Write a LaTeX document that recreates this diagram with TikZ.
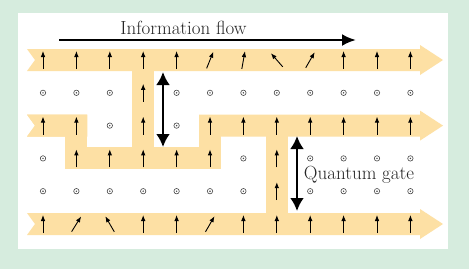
\documentclass[tikz,border=0pt]{standalone}
\usetikzlibrary{arrows.meta}
\definecolor{bggreen}{RGB}{214,236,222}
\definecolor{bandc}{RGB}{253,224,164}
\definecolor{dotgray}{RGB}{70,70,70}
\tikzset{
  bandfill/.style={fill=bandc},
  spinarrow/.style={line width=0.9pt,-{Latex[length=6pt,width=4.6pt]}},
  bigarrow/.style={line width=2.6pt,-{Latex[length=14pt,width=12pt]}},
  dblarrow/.style={line width=2.8pt,{Latex[length=13pt,width=14pt]}-{Latex[length=13pt,width=14pt]}},
  lbl/.style={font=\fontsize{19}{22}\selectfont,inner sep=0pt,text=black!85}
}
\newcommand\bandrow[1]{\fill[bandfill] (27,#1-11) -- (420,#1-11) -- (420,#1-15) -- (443,#1) -- (420,#1+15) -- (420,#1+11) -- (27,#1+11) -- (35,#1) -- cycle;}
\newcommand\spinat[3]{\draw[spinarrow,shift={({43+33.4*(#1-1)},#2)},rotate=#3] (0,9) -- (0,-9);}
\newcommand\dotat[2]{\draw[dotgray,line width=0.6pt] ({43+33.4*(#1-1)},#2) circle[radius=2.7]; \fill[dotgray] ({43+33.4*(#1-1)},#2) circle[radius=0.8];}
\begin{document}
\begin{tikzpicture}[x=1pt,y=-1pt]
\fill[bggreen] (0,0) rectangle (469,269);
\useasboundingbox (0,0) rectangle (469,269);
\fill[white] (18,13) rectangle (448,249);
% bands
\bandrow{60}
\bandrow{125.6}
\bandrow{224}
\fill[white] (87.4,114) rectangle (199,137.2);
\fill[bandfill] (27,114.6) -- (87.4,114.6) -- (87.4,136.6) -- (27,136.6) -- (35,125.6) -- cycle;
\fill[bandfill] (65.4,114.6) rectangle (87.4,169.4);
\fill[bandfill] (65.4,147.4) rectangle (221,169.4);
\fill[bandfill] (132.2,49) rectangle (154.2,169.4);
\fill[bandfill] (199,114.6) rectangle (221,169.4);
\fill[bandfill] (265.8,114.6) rectangle (287.8,235);
% row 1
\foreach \c/\a in {1/0,2/0,3/0,4/0,5/0,6/-22,7/-10,8/41,9/-30,10/0,11/0,12/0} {\spinat{\c}{60}{\a}}
% row 2
\spinat{4}{92.8}{0}
\foreach \c in {1,2,3,5,6,7,8,9,10,11,12} {\dotat{\c}{92.8}}
% row 3
\foreach \c in {1,2,4,6,7,8,9,10,11,12} {\spinat{\c}{125.6}{0}}
\foreach \c in {3,5} {\dotat{\c}{125.6}}
% row 4
\foreach \c in {2,3,4,5,6,8} {\spinat{\c}{158.4}{0}}
\foreach \c in {1,7,9,10,11,12} {\dotat{\c}{158.4}}
% row 5
\spinat{8}{191.2}{0}
\foreach \c in {1,2,3,4,5,6,7,9,10,11,12} {\dotat{\c}{191.2}}
% row 6
\foreach \c/\a in {1/0,2/-32,3/30,4/0,5/0,6/-30,7/0,8/0,9/0,10/0,11/0,12/0} {\spinat{\c}{224}{\a}}
% information flow
\coordinate (fs) at (59,40);
\coordinate (fe) at (356,40);
\draw[bigarrow] (fs) -- (fe);
\node[lbl,anchor=base] (flow) at (183.5,34.5) {Information flow};
% quantum gates
\coordinate (g1t) at (163,72);
\coordinate (g1b) at (163,147);
\draw[dblarrow] (g1t) -- (g1b);
\coordinate (g2t) at (297,136);
\coordinate (g2b) at (297,211);
\draw[dblarrow] (g2t) -- (g2b);
\node[lbl] (gate) at (359,175) {Quantum gate};
\end{tikzpicture}
\end{document}
